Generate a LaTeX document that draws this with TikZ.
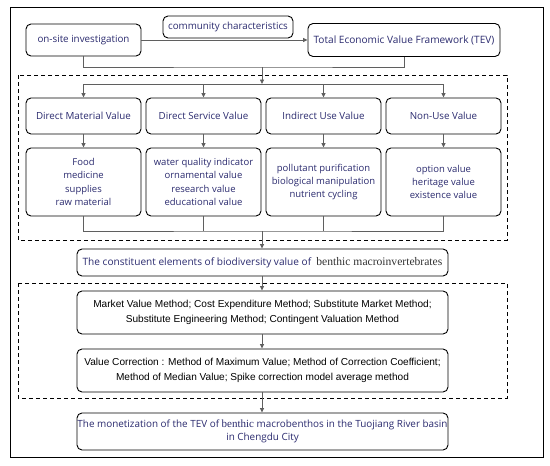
\documentclass[tikz,border=0pt]{standalone}
\usepackage{fontspec}
\setmainfont{Open Sans}
\newfontfamily\arialf{Liberation Sans}
\newfontfamily\timesf{Liberation Serif}
\usetikzlibrary{arrows.meta}
\definecolor{navy}{RGB}{42,42,110}
\definecolor{conncol}{RGB}{95,95,95}
\begin{document}
\begin{tikzpicture}[x=1pt,y=-1pt,
  box/.style={draw=black, line width=0.9pt, rounded corners=5pt, align=center, text=navy,
    font=\fontsize{9.8}{12.5}\selectfont, inner sep=0pt},
  dtl/.style={box, font=\fontsize{9.5}{13.2}\selectfont},
  mbox/.style={box, text=black, font=\arialf\fontsize{10.1}{14.5}\selectfont},
  conn/.style={draw=conncol, line width=0.8pt},
  arr/.style={conn, -{Triangle[length=4.5pt,width=4pt]}},
  dbox/.style={draw=black, line width=0.9pt, dash pattern=on 4pt off 3pt}]
\useasboundingbox (0,0) rectangle (550,466);
\draw[line width=1pt] (10,7) rectangle (543,457);
% top row
\node[box, minimum width=115pt, minimum height=32pt] (onsite) at (83.5,40) {on-site investigation};
\node[box, minimum width=130pt, minimum height=22pt] (comm) at (228,27) {community characteristics};
\node[box, minimum width=192pt, minimum height=33pt, font=\fontsize{10.1}{12.5}\selectfont] (tev) at (404,40) {Total Economic Value Framework (TEV)};
\draw[arr] (onsite.east) -- (tev.west);
\coordinate (j1) at (262,67);
\coordinate (j2) at (262,84);
\draw[conn] (onsite.south) |- (j1) -| (tev.south);
\draw[arr] (j1) -- (j2);
% dashed box 1
\draw[dbox] (18,75) rectangle (507,240);
% categories
\node[box, minimum width=115pt, minimum height=36pt] (c1) at (83.5,116) {Direct Material Value};
\node[box, minimum width=115pt, minimum height=36pt] (c2) at (203.5,116) {Direct Service Value};
\node[box, minimum width=115pt, minimum height=36pt] (c3) at (323.5,116) {Indirect Use Value};
\node[box, minimum width=115pt, minimum height=36pt] (c4) at (443.5,116) {Non-Use Value};
\draw[conn] (c1.north |- j2) -- (c4.north |- j2);
\foreach \i in {1,2,3,4} \draw[arr] (c\i.north |- j2) -- (c\i.north);
% details
\node[dtl, minimum width=115pt, minimum height=68pt] (d1) at (83.5,182) {Food\\medicine\\supplies\\raw material};
\node[dtl, minimum width=115pt, minimum height=68pt] (d2) at (203.5,182) {water quality indicator\\ornamental value\\research value\\educational value};
\node[dtl, minimum width=115pt, minimum height=68pt] (d3) at (323.5,182) {pollutant purification\\biological manipulation\\nutrient cycling};
\node[dtl, minimum width=115pt, minimum height=68pt] (d4) at (443.5,182) {option value\\heritage value\\existence value};
\foreach \i in {1,2,3,4} \draw[arr] (c\i.south) -- (d\i.north);
\coordinate (j3) at (262,231);
\draw[conn] (d1.south) |- (j3) -| (d4.south);
\draw[conn] (d2.south) -- (d2.south |- j3);
\draw[conn] (d3.south) -- (d3.south |- j3);
% constituent
\node[box, minimum width=371pt, minimum height=27pt, font=\fontsize{10.1}{12.5}\selectfont] (cons) at (262.5,262.5) {The constituent elements of biodiversity value of\ \ {\timesf\fontsize{11.6}{12.5}\selectfont\color{black!80}benthic macroinvertebrates}};
\draw[arr] (j3) -- (j3 |- cons.north);
% dashed box 2
\draw[dbox] (18,283) rectangle (507,398);
\node[mbox, minimum width=371pt, minimum height=43pt] (meth) at (262.5,312.5) {Market Value Method; Cost Expenditure Method; Substitute Market Method;\\Substitute Engineering Method; Contingent Valuation Method};
\node[mbox, minimum width=371pt, minimum height=43pt] (vc) at (262.5,370.5) {Value Correction : Method of Maximum Value; Method of Correction Coefficient;\\Method of Median Value; Spike correction model average method};
\node[box, minimum width=371pt, minimum height=37pt, font=\fontsize{9.9}{13.5}\selectfont] (mon) at (262.5,431.5) {The monetization of the TEV of {\timesf\fontsize{11}{13.5}\selectfont benthic} macrobenthos in the Tuojiang River basin\\in Chengdu City};
\draw[arr] (cons.south -| j3) -- (meth.north -| j3);
\draw[arr] (meth.south -| j3) -- (vc.north -| j3);
\draw[arr] (vc.south -| j3) -- (mon.north -| j3);
\end{tikzpicture}
\end{document}
